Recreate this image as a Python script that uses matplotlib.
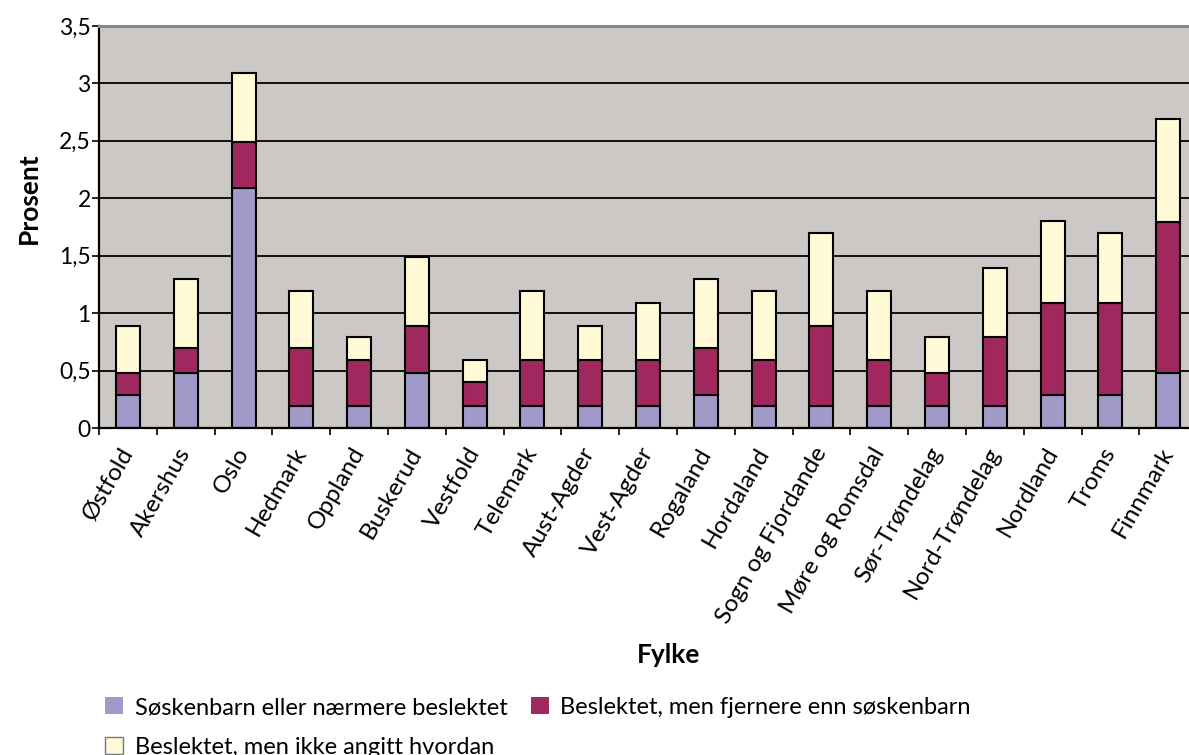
import numpy as np
import matplotlib
matplotlib.use("Agg")
import matplotlib.pyplot as plt
from matplotlib.patches import Patch

plt.rcParams['font.family'] = ['Lato', 'DejaVu Sans']

# Fylker og andel (prosent) fordelt på slektskap
fylker = ['Østfold', 'Akershus', 'Oslo', 'Hedmark', 'Oppland', 'Buskerud',
          'Vestfold', 'Telemark', 'Aust-Agder', 'Vest-Agder', 'Rogaland',
          'Hordaland', 'Sogn og Fjordande', 'Møre og Romsdal', 'Sør-Trøndelag',
          'Nord-Trøndelag', 'Nordland', 'Troms', 'Finnmark']
soskenbarn = [0.29, 0.48, 2.09, 0.19, 0.19, 0.48, 0.19, 0.19, 0.19, 0.19,
              0.29, 0.19, 0.19, 0.19, 0.19, 0.19, 0.29, 0.29, 0.48]
fjernere = [0.19, 0.22, 0.40, 0.51, 0.40, 0.41, 0.21, 0.40, 0.40, 0.40,
            0.41, 0.40, 0.70, 0.40, 0.29, 0.60, 0.80, 0.80, 1.31]
ikke_angitt = [0.41, 0.60, 0.60, 0.49, 0.20, 0.60, 0.19, 0.60, 0.30, 0.50,
               0.60, 0.60, 0.81, 0.60, 0.31, 0.60, 0.71, 0.61, 0.90]
serier = ['Søskenbarn eller nærmere beslektet',
          'Beslektet, men fjernere enn søskenbarn',
          'Beslektet, men ikke angitt hvordan']
y_ticks = [0, 0.5, 1, 1.5, 2, 2.5, 3, 3.5]
y_labels = ['0', '0,5', '1', '1,5', '2', '2,5', '3', '3,5']

farger = ['#A09AC8', '#A0285E', '#FFF9D6']

fig = plt.figure(figsize=(11.89, 7.55), dpi=100)
ax = fig.add_axes([0.0833, 0.4331, 0.9235, 0.5325])
ax.set_facecolor('#CCC8C5')

x = np.arange(len(fylker))
b1 = np.array(soskenbarn)
b2 = b1 + np.array(fjernere)
ax.bar(x, soskenbarn, width=0.415, color=farger[0], edgecolor='black', linewidth=1.5)
ax.bar(x, fjernere, width=0.415, bottom=b1, color=farger[1], edgecolor='black', linewidth=1.5)
ax.bar(x, ikke_angitt, width=0.415, bottom=b2, color=farger[2], edgecolor='black', linewidth=1.5)

ax.set_xlim(-0.5, len(fylker) - 0.5)
ax.set_ylim(0, 3.5)
ax.set_axisbelow(True)
ax.yaxis.grid(True, color='#111111', linewidth=1.4)

ax.set_yticks(y_ticks, y_labels)
ax.tick_params(axis='y', length=5, width=1.2, labelsize=16.5, pad=1)

# kategorigrenser som hovedmerker, navnene på midten
ax.set_xticks(np.arange(len(fylker) + 1) - 0.5, [''] * (len(fylker) + 1))
ax.set_xticks(x, fylker, minor=True)
ax.tick_params(axis='x', which='major', length=5, width=1.2)
ax.tick_params(axis='x', which='minor', length=0, labelsize=17.5, pad=15)
plt.setp(ax.get_xticklabels(minor=True), rotation=60, ha='right', va='center',
         rotation_mode='anchor')

for side in ['left', 'bottom']:
    ax.spines[side].set_color('black')
    ax.spines[side].set_linewidth(1.6)
ax.spines['top'].set_color('#8A8582')
ax.spines['top'].set_linewidth(2.2)
ax.spines['right'].set_visible(False)

fig.text(0.024, 0.737, 'Prosent', rotation=90, ha='center', va='center',
         fontsize=19, fontweight='bold')
fig.text(0.562, 0.133, 'Fylke', ha='center', va='center',
         fontsize=19, fontweight='bold')

handles = [Patch(facecolor=farger[0], edgecolor='none'),
           Patch(facecolor=farger[2], edgecolor='#777777', linewidth=1),
           Patch(facecolor=farger[1], edgecolor='none')]
fig.legend(handles, [serier[0], serier[2], serier[1]], ncol=2,
           loc='upper left', bbox_to_anchor=(0.0883, 0.0768), frameon=False,
           fontsize=17, handlelength=0.75, handleheight=0.7,
           handletextpad=0.5, columnspacing=1.0, labelspacing=0.8,
           borderaxespad=0, borderpad=0)

fig.savefig('out.png', dpi=100)
